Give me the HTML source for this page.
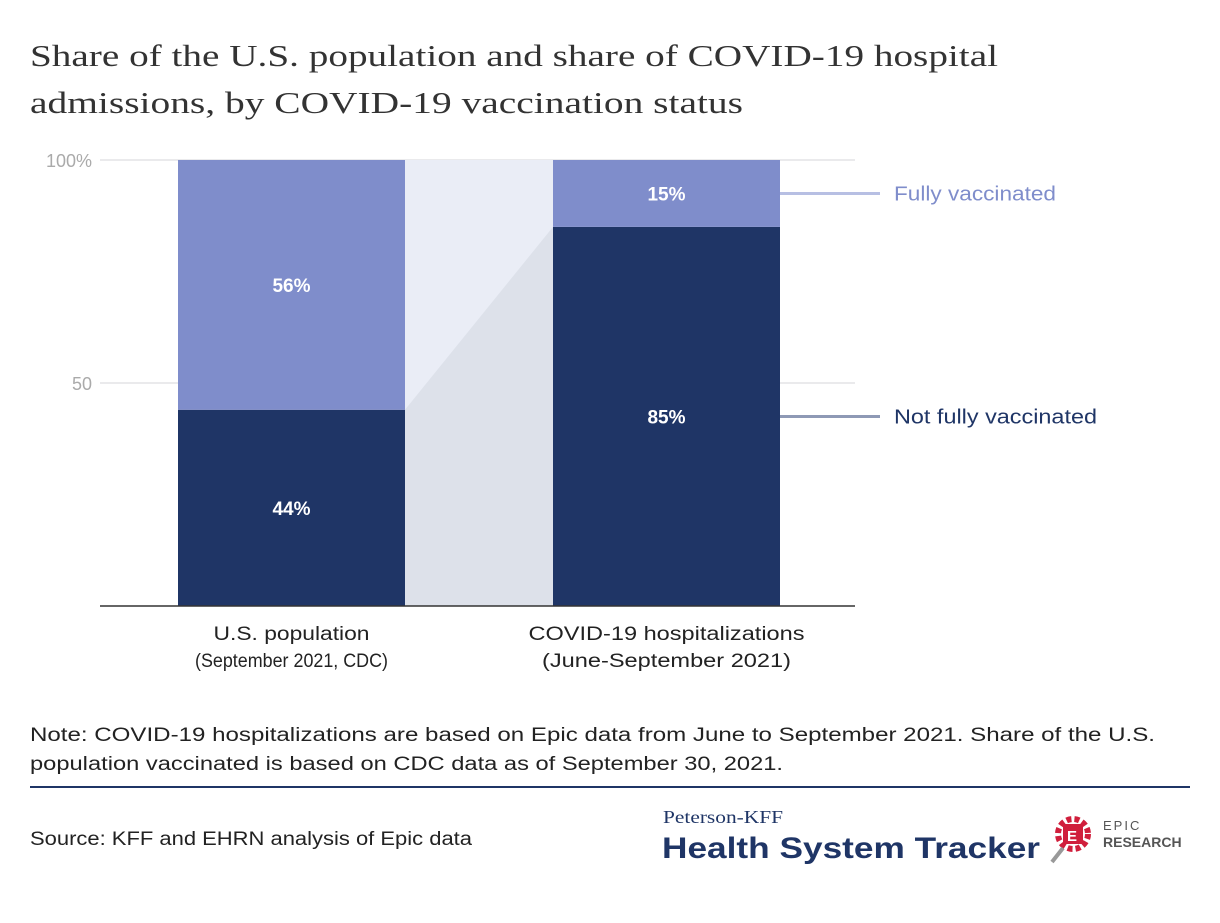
<!DOCTYPE html>
<html><head><meta charset="utf-8"><style>
body{margin:0;background:#fff;width:1220px;height:918px;overflow:hidden;font-family:"Liberation Sans",sans-serif}
</style></head><body>
<svg width="1220" height="918" xmlns="http://www.w3.org/2000/svg">
<text x="30" y="66" font-family="Liberation Serif" font-size="31" fill="#333" textLength="968" lengthAdjust="spacingAndGlyphs">Share of the U.S. population and share of COVID-19 hospital</text>
<text x="30" y="113" font-family="Liberation Serif" font-size="31" fill="#333" textLength="713" lengthAdjust="spacingAndGlyphs">admissions, by COVID-19 vaccination status</text>
<g id="plot"></g>
<text x="30" y="741" font-size="19" fill="#222" textLength="1125" lengthAdjust="spacingAndGlyphs">Note: COVID-19 hospitalizations are based on Epic data from June to September 2021. Share of the U.S.</text>
<text x="30" y="770" font-size="19" fill="#222" textLength="753" lengthAdjust="spacingAndGlyphs">population vaccinated is based on CDC data as of September 30, 2021.</text>
<line x1="30" y1="787" x2="1190" y2="787" stroke="#1f3566" stroke-width="2"/>
<text x="30" y="845" font-size="19" fill="#222" textLength="442" lengthAdjust="spacingAndGlyphs">Source: KFF and EHRN analysis of Epic data</text>
<text x="663" y="823" font-family="Liberation Serif" font-size="18" fill="#1f3566" textLength="120" lengthAdjust="spacingAndGlyphs">Peterson-KFF</text>
<text x="662" y="858" font-size="30" font-weight="bold" fill="#1f3566" textLength="378" lengthAdjust="spacingAndGlyphs">Health System Tracker</text>
<g>
<circle cx="1073" cy="834" r="15" fill="none" stroke="#d01f3c" stroke-width="6" stroke-dasharray="5 3"/>
<rect x="1063" y="824" width="20" height="20" fill="#d01f3c"/>
<text x="1067" y="841" font-size="15" font-weight="bold" fill="#fff">E</text>
<line x1="1063" y1="848" x2="1052" y2="862" stroke="#999" stroke-width="4"/>
<text x="1103" y="830" font-size="13" fill="#555" letter-spacing="2">EPIC</text>
<text x="1103" y="847" font-size="14" font-weight="bold" fill="#555">RESEARCH</text>
</g>
</svg>
<script>
const categories=["U.S. population","COVID-19 hospitalizations"];
const subLabels=["(September 2021, CDC)","(June-September 2021)"];
const notVax=[44,85];
const fullyVax=[56,15];
const yTicks=[50,100];
const yTickLabels=["50","100%"];
const NS="http://www.w3.org/2000/svg";
const g=document.getElementById('plot');
const y=v=>606-v*4.46;
const barX=[178,553],barW=227;
const catW=[156,276],subW=[193,249];
function el(t,a,txt){const e=document.createElementNS(NS,t);for(const k in a)e.setAttribute(k,a[k]);if(txt!=null)e.textContent=txt;g.appendChild(e);return e;}
yTicks.forEach((t,i)=>{
 const l=el('line',{x1:100,x2:855,y1:y(t),y2:y(t),stroke:'#e3e3e6','stroke-width':1.5});
 
 
 const tx=el('text',{x:92,y:y(t)+7,'text-anchor':'end','font-size':18,fill:'#aaa'},yTickLabels[i]);
 
 
});
const c1=el('rect',{x:barX[0]+barW,y:y(100),width:barX[1]-barX[0]-barW,height:y(0)-y(100),fill:'#eaedf6'});


const c2=el('polygon',{points:`${barX[0]+barW},${y(notVax[0])} ${barX[1]},${y(notVax[1])} ${barX[1]},${y(0)} ${barX[0]+barW},${y(0)}`,fill:'#dde1ea'});


categories.forEach((c,i)=>{
 const x=barX[i];
 const b1=el('rect',{x:x,y:y(notVax[i]),width:barW,height:y(0)-y(notVax[i]),fill:'#1f3566'});
 
 
 const b2=el('rect',{x:x,y:y(notVax[i]+fullyVax[i]),width:barW,height:y(notVax[i])-y(notVax[i]+fullyVax[i]),fill:'#7f8dcb'});
 
 
 const l1=el('text',{x:x+barW/2,y:(y(notVax[i])+y(0))/2+7,'text-anchor':'middle','font-size':19,'font-weight':'bold',fill:'#fff'},notVax[i]+'%');
 
 
 const l2=el('text',{x:x+barW/2,y:(y(notVax[i])+y(notVax[i]+fullyVax[i]))/2+7,'text-anchor':'middle','font-size':19,'font-weight':'bold',fill:'#fff'},fullyVax[i]+'%');
 
 
 const t1=el('text',{x:x+barW/2,y:640,'text-anchor':'middle','font-size':19,fill:'#222',textLength:catW[i],lengthAdjust:'spacingAndGlyphs'},c);
 
 
 const t2=el('text',{x:x+barW/2,y:667,'text-anchor':'middle','font-size':19,fill:'#222',textLength:subW[i],lengthAdjust:'spacingAndGlyphs'},subLabels[i]);
 
 
});
const ax=el('line',{x1:100,x2:855,y1:606,y2:606,stroke:'#333','stroke-width':1.5});


const last=categories.length-1;
const lgY1=(y(notVax[last])+y(100))/2, lgY2=(y(notVax[last])+y(0))/2;
const a=el('line',{x1:780,x2:880,y1:lgY1,y2:lgY1,stroke:'#b7bfe3','stroke-width':3});


const at=el('text',{x:894,y:lgY1+7,'font-size':20,fill:'#7f8dcb',textLength:162,lengthAdjust:'spacingAndGlyphs'},'Fully vaccinated');


const b=el('line',{x1:780,x2:880,y1:lgY2,y2:lgY2,stroke:'#8e99b5','stroke-width':3});


const bt=el('text',{x:894,y:lgY2+7,'font-size':20,fill:'#1f3566',textLength:203,lengthAdjust:'spacingAndGlyphs'},'Not fully vaccinated');


</script>
</body></html>
